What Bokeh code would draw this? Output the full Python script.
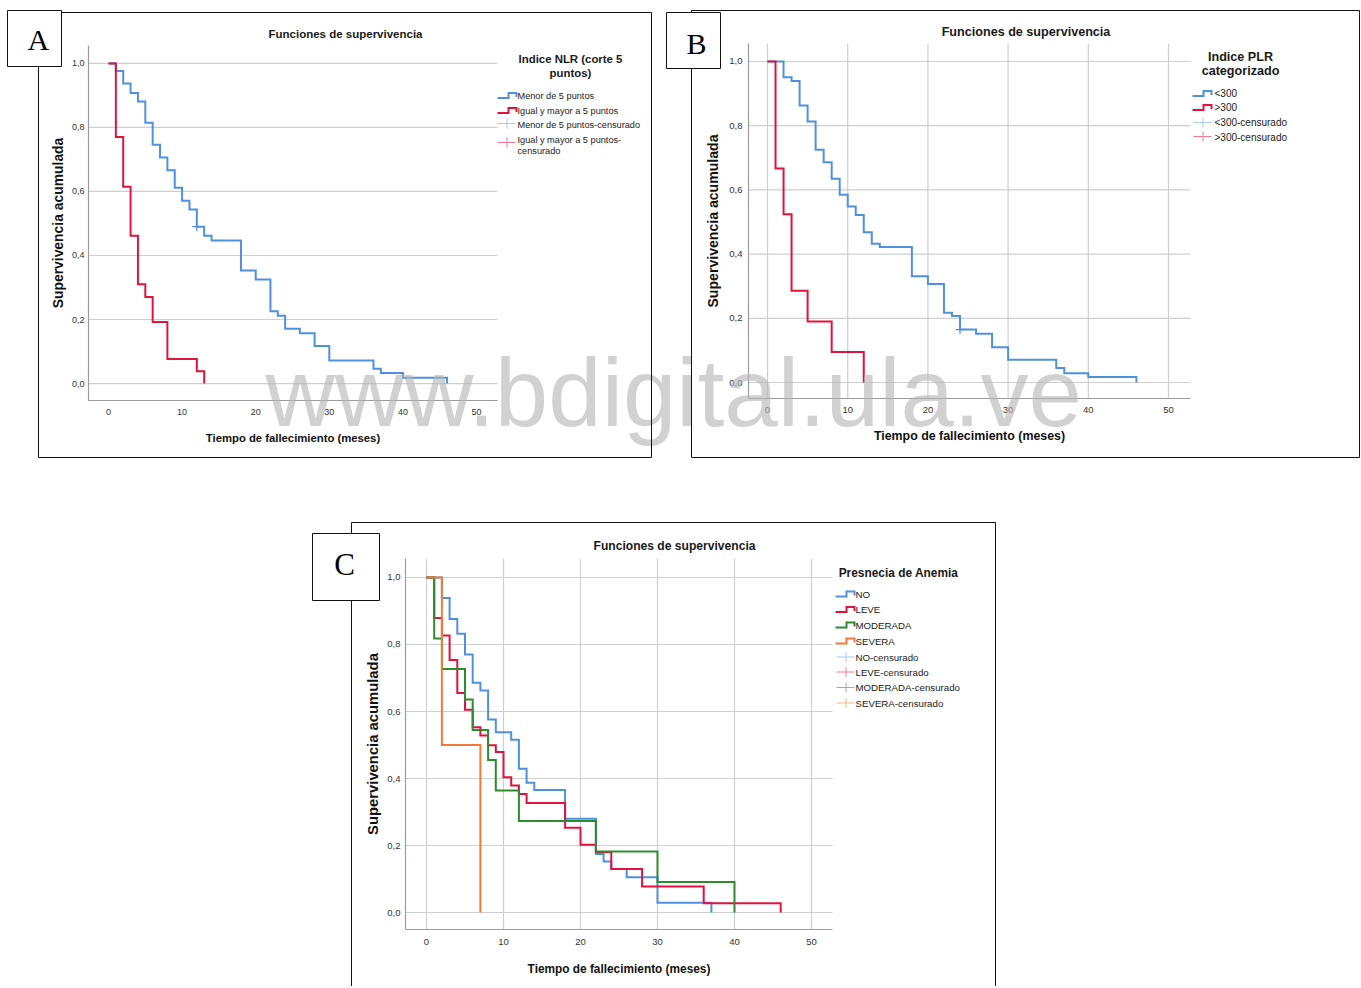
from bokeh.plotting import figure
from bokeh.models import Range1d, FixedTicker, Label, BoxAnnotation, LinearAxis
from bokeh.embed import file_html
from bokeh.resources import INLINE

# ---------------- data ----------------
x_ticks = [0, 10, 20, 30, 40, 50]
x_tick_labels = ["0", "10", "20", "30", "40", "50"]
y_ticks = [0, 0.2, 0.4, 0.6, 0.8, 1]
y_tick_labels = ["0,0", "0,2", "0,4", "0,6", "0,8", "1,0"]

title_text = "Funciones de supervivencia"
x_label = "Tiempo de fallecimiento (meses)"
y_label = "Supervivencia acumulada"
watermark = "www.bdigital.ula.ve"

# Panel A: Indice NLR
nlr_title = ["Indice NLR (corte 5", "puntos)"]
nlr_names = ["Menor de 5 puntos", "Igual y mayor a 5 puntos",
             "Menor de 5 puntos-censurado", "Igual y mayor a 5 puntos-", "censurado"]
nlr_menor_t = [0, 1, 2, 3, 4, 5, 6, 7, 8, 9, 10, 11, 12, 13, 14, 18, 20, 22, 23, 24, 26, 28, 30, 36, 37, 40, 46]
nlr_menor_s = [1.0, 0.976, 0.937, 0.908, 0.881, 0.815, 0.746, 0.706, 0.666, 0.612, 0.571, 0.544, 0.490,
               0.462, 0.447, 0.353, 0.325, 0.226, 0.212, 0.171, 0.157, 0.117, 0.072, 0.046, 0.033, 0.018, 0.0]
nlr_igual_t = [0, 1, 2, 3, 4, 5, 6, 8, 12, 13]
nlr_igual_s = [1.0, 0.770, 0.615, 0.462, 0.310, 0.270, 0.192, 0.077, 0.038, 0.0]
nlr_menor_cens_t = [12]
nlr_menor_cens_s = [0.490]

# Panel B: Indice PLR
plr_title = ["Indice PLR", "categorizado"]
plr_names = ["<300", ">300", "<300-censurado", ">300-censurado"]
plr_menor_t = [0, 2, 3, 4, 5, 6, 7, 8, 9, 10, 11, 12, 13, 14, 18, 20, 22, 23, 24, 26, 28, 30, 36, 37, 40, 46]
plr_menor_s = [1.0, 0.951, 0.939, 0.863, 0.813, 0.725, 0.686, 0.635, 0.585, 0.548, 0.522, 0.468, 0.432,
               0.422, 0.331, 0.307, 0.217, 0.207, 0.165, 0.152, 0.110, 0.071, 0.045, 0.029, 0.017, 0.0]
plr_mayor_t = [0, 1, 2, 3, 5, 8, 12]
plr_mayor_s = [1.0, 0.667, 0.524, 0.286, 0.190, 0.095, 0.0]
plr_menor_cens_t = [24]
plr_menor_cens_s = [0.165]

# Panel C: Anemia
anem_title = "Presnecia de Anemia"
anem_names = ["NO", "LEVE", "MODERADA", "SEVERA",
              "NO-censurado", "LEVE-censurado", "MODERADA-censurado", "SEVERA-censurado"]
anem_no_t = [0, 2, 3, 4, 5, 6, 7, 8, 9, 11, 12, 13, 14, 18, 22, 23, 24, 26, 30, 37]
anem_no_s = [1.0, 0.939, 0.876, 0.832, 0.770, 0.686, 0.663, 0.576, 0.538, 0.516, 0.429, 0.387, 0.366,
             0.280, 0.175, 0.152, 0.130, 0.105, 0.029, 0.0]
anem_leve_t = [0, 1, 2, 3, 4, 5, 6, 7, 8, 9, 10, 11, 12, 13, 18, 20, 22, 24, 28, 36, 46]
anem_leve_s = [1.0, 0.879, 0.827, 0.754, 0.655, 0.605, 0.553, 0.528, 0.499, 0.479, 0.404, 0.379, 0.354,
               0.327, 0.253, 0.202, 0.180, 0.130, 0.078, 0.028, 0.0]
anem_mod_t = [0, 1, 2, 5, 6, 8, 9, 12, 22, 30, 40]
anem_mod_s = [1.0, 0.818, 0.727, 0.636, 0.545, 0.455, 0.364, 0.273, 0.182, 0.091, 0.0]
anem_sev_t = [0, 2, 7]
anem_sev_s = [1.0, 0.5, 0.0]

# ---------------- style ----------------
FONT = "Liberation Sans"
SERIF = "Liberation Serif"
BLUE = "#4f91e0"
RED = "#e2123e"
GREEN = "#2e8b2e"
ORANGE = "#f47a36"
BLUE_L = "#a7c9f2"
RED_L = "#f27b95"
GREEN_L = "#86c286"
ORANGE_L = "#f8b58c"
GRID = "#cfcfcf"
AXIS = "#9c9c9c"

W, H = 1360, 986

p = figure(width=W, height=H, x_range=Range1d(0, W), y_range=Range1d(0, H),
           x_axis_type=None, y_axis_type=None,
           min_border=0, min_border_left=0, min_border_right=0, min_border_top=0, min_border_bottom=0,
           output_backend="svg", toolbar_location=None)
p.outline_line_color = None
p.background_fill_color = "white"
p.border_fill_color = "white"
p.title.visible = False

# panel geometry: data-region pixel box (left, right, top, bottom) and data bounds there
panels = {
    "a": dict(px=(88, 497, 45, 400), xb=(-2.717, 52.85), yb=(-0.053, 1.056), vgrid=False,
              sz=dict(tick=9, xlab=11.3, ylab=13.9, xstd=8, xlstd=14, ystd=4, ylstd=3)),
    "b": dict(px=(748, 1190, 43, 398), xb=(-2.369, 52.74), yb=(-0.0498, 1.056), vgrid=True,
              sz=dict(tick=9.5, xlab=12.4, ylab=14.1, xstd=8, xlstd=13, ystd=6, ylstd=5)),
    "c": dict(px=(405, 832, 558, 929), xb=(-2.727, 52.73), yb=(-0.0507, 1.0567), vgrid=True,
              sz=dict(tick=9.5, xlab=11.85, ylab=14.8, xstd=9, xlstd=14, ystd=5, ylstd=3)),
}

xr_extra, yr_extra = {}, {}
for k, g in panels.items():
    l, r, t, b = g["px"]
    x0, x1 = g["xb"]
    y0, y1 = g["yb"]
    sx = (r - l) / (x1 - x0)
    sy = (b - t) / (y1 - y0)
    xr_extra[k + "x"] = Range1d(x0 - l / sx, x1 + (W - r) / sx)
    yr_extra[k + "y"] = Range1d(y0 - (H - b) / sy, y1 + t / sy)
p.extra_x_ranges = xr_extra
p.extra_y_ranges = yr_extra


def setup_axes(k):
    g = panels[k]
    sz = g["sz"]
    kw = dict(x_range_name=k + "x", y_range_name=k + "y")
    x0, x1 = g["xb"]
    y0, y1 = g["yb"]
    n = len(y_ticks)
    p.segment(x0=[x0] * n, x1=[x1] * n, y0=y_ticks, y1=y_ticks, line_color=GRID, line_width=1.2, **kw)
    if g["vgrid"]:
        m = len(x_ticks)
        p.segment(x0=x_ticks, x1=x_ticks, y0=[y0] * m, y1=[y1] * m, line_color=GRID, line_width=1.2, **kw)
    common = dict(major_tick_in=0, major_tick_out=0, minor_tick_in=0, minor_tick_out=0,
                  major_tick_line_color=None, minor_tick_line_color=None,
                  axis_line_color=AXIS, axis_line_width=1.2,
                  major_label_text_font=FONT, major_label_text_color="#333333",
                  major_label_text_font_size=f"{sz['tick']}px",
                  axis_label_text_font=FONT, axis_label_text_font_style="bold",
                  axis_label_text_color="#111111")
    xa = LinearAxis(fixed_location=y0, bounds=(x0, x1), ticker=FixedTicker(ticks=x_ticks),
                    major_label_overrides=dict(zip(x_ticks, x_tick_labels)),
                    axis_label=x_label, axis_label_text_font_size=f"{sz['xlab']}px",
                    major_label_standoff=sz["xstd"], axis_label_standoff=sz["xlstd"], **common, **kw)
    ya = LinearAxis(fixed_location=x0, bounds=(y0, y1), ticker=FixedTicker(ticks=y_ticks),
                    major_label_overrides=dict(zip(y_ticks, y_tick_labels)),
                    axis_label=y_label, axis_label_text_font_size=f"{sz['ylab']}px",
                    major_label_standoff=sz["ystd"], axis_label_standoff=sz["ylstd"], **common, **kw)
    p.add_layout(xa, "below")
    p.add_layout(ya, "left")
    return kw


def curve(kw, t, s, color):
    p.step(x=t, y=s, mode="after", line_color=color, line_width=2, line_join="miter", **kw)


def cens(kw, t, s, color):
    p.scatter(x=t, y=s, marker="cross", size=9, line_color=color, line_width=1.2, **kw)


def text(x, y, s, size, bold=False, align="left", color="#1a1a1a", font=FONT, alpha=1.0):
    p.add_layout(Label(x=x, y=H - y, x_units="screen", y_units="screen",
                       text=s, text_font=font, text_font_size=f"{size}px",
                       text_font_style="bold" if bold else "normal",
                       text_align=align, text_baseline="middle",
                       text_color=color, text_alpha=alpha))


def box(l, t, r, b, fill=None, line=None, lw=1):
    p.add_layout(BoxAnnotation(left=l, right=r, top=H - t, bottom=H - b,
                               left_units="screen", right_units="screen",
                               top_units="screen", bottom_units="screen",
                               fill_color=fill if fill else "white",
                               fill_alpha=1.0 if fill else 0.0,
                               line_color=line, line_alpha=1.0, line_width=lw))


def hseg(x0, x1, y, color, th=2):
    box(x0, y - th / 2, x1, y + th / 2, fill=color)


def vseg(x, y0, y1, color, th=2):
    box(x - th / 2, y0, x + th / 2, y1, fill=color)


def step_icon(x0, yc, color):
    hseg(x0, x0 + 11, yc + 2.5, color)
    vseg(x0 + 11, yc - 3.5, yc + 3.5, color)
    hseg(x0 + 11, x0 + 19, yc - 2.5, color)
    vseg(x0 + 19, yc - 3.5, yc + 1.5, color)


def plus_icon(x0, yc, color):
    hseg(x0, x0 + 18, yc, color, th=1)
    vseg(x0 + 9.5, yc - 5, yc + 5, color, th=1)


# ---------------- Panel A ----------------
ka = setup_axes("a")
curve(ka, nlr_menor_t, nlr_menor_s, BLUE)
curve(ka, nlr_igual_t, nlr_igual_s, RED)
cens(ka, nlr_menor_cens_t, nlr_menor_cens_s, BLUE)

# ---------------- Panel B ----------------
kb = setup_axes("b")
curve(kb, plr_menor_t, plr_menor_s, BLUE)
curve(kb, plr_mayor_t, plr_mayor_s, RED)
cens(kb, plr_menor_cens_t, plr_menor_cens_s, BLUE)

# ---------------- Panel C ----------------
kc = setup_axes("c")
curve(kc, anem_no_t, anem_no_s, BLUE)
curve(kc, anem_leve_t, anem_leve_s, RED)
curve(kc, anem_mod_t, anem_mod_s, GREEN)
curve(kc, anem_sev_t, anem_sev_s, ORANGE)

# ---------------- decorations ----------------
text(265, 392, watermark, 96, color="#b4b4b4", alpha=0.62)

box(38, 12, 651, 457, line="#111111")
box(691, 10, 1359, 457, line="#111111")
box(351, 522, 995, 1000, line="#111111")
box(7, 10, 61, 66, fill="white", line="#111111")
box(666, 12, 720, 68, fill="white", line="#111111")
box(312, 533, 379, 600, fill="white", line="#111111")
text(37.8, 39, "A", 30, font=SERIF, align="center", color="black")
text(696, 42.5, "B", 30, font=SERIF, align="center", color="black")
text(344, 564, "C", 31, font=SERIF, align="center", color="black")

# titles
text(345, 33, title_text, 11.5, bold=True, align="center")
text(1025.5, 31, title_text, 12.6, bold=True, align="center")
text(674, 545, title_text, 12.1, bold=True, align="center")

# legend A
text(570, 58, nlr_title[0], 11.4, bold=True, align="center")
text(570, 72, nlr_title[1], 11.4, bold=True, align="center")
step_icon(497, 95, BLUE)
step_icon(497, 110, RED)
plus_icon(497, 123, BLUE_L)
plus_icon(497, 142, RED_L)
text(517, 95, nlr_names[0], 9.2)
text(517, 110, nlr_names[1], 9.2)
text(517, 124, nlr_names[2], 9.2)
text(517, 139, nlr_names[3], 9.2)
text(517, 150, nlr_names[4], 9.2)

# legend B
text(1240, 56, plr_title[0], 12.6, bold=True, align="center")
text(1240, 70, plr_title[1], 12.6, bold=True, align="center")
step_icon(1192, 93, BLUE)
step_icon(1192, 107, RED)
plus_icon(1193, 122, BLUE_L)
plus_icon(1193, 136, RED_L)
text(1214, 93, plr_names[0], 10)
text(1214, 107, plr_names[1], 10)
text(1214, 122, plr_names[2], 10)
text(1214, 136.5, plr_names[3], 10)

# legend C
text(898, 572, anem_title, 11.9, bold=True, align="center")
rows_c = [593.5, 609, 624.5, 640.5, 656.5, 671.5, 687, 702.5]
icons_c = [BLUE, RED, GREEN, ORANGE]
icons_cl = [BLUE_L, RED_L, GREEN_L, ORANGE_L]
for i, yc in enumerate(rows_c):
    if i < 4:
        step_icon(835, yc, icons_c[i])
    else:
        plus_icon(836, yc, icons_cl[i - 4])
    text(855, yc, anem_names[i], 9.7)

with open("out.html", "w") as f:
    f.write(file_html(p, INLINE))
